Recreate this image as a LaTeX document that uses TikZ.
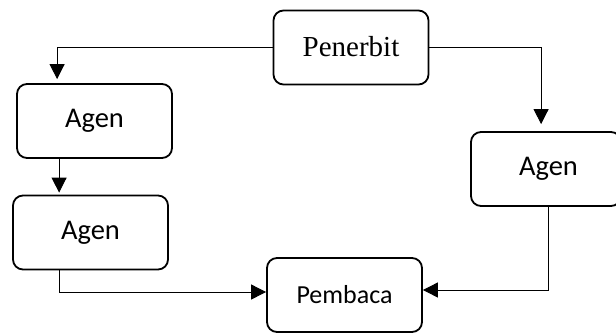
\documentclass[tikz,border=0pt]{standalone}
\usepackage{fontspec}
\setmainfont{Carlito}
\newfontfamily\serifpen{Liberation Serif}
\usetikzlibrary{arrows.meta}
\begin{document}
\begin{tikzpicture}[x=1pt,y=-1pt,
  box/.style={draw, line width=1.8pt, rounded corners=10pt, minimum width=155pt, minimum height=74pt, inner sep=0pt},
  conn/.style={line width=0.9pt, -{Triangle[length=15pt,width=15pt]}}]
\useasboundingbox (0,0) rectangle (616,333);
\node[box, font=\serifpen\fontsize{29}{32}\selectfont] (pen) at (351,47.5) {\raisebox{2pt}{Penerbit}};
\node[box, font=\fontsize{28.5}{32}\selectfont] (ag1) at (94.5,121) {Agen};
\node[box, font=\fontsize{28.5}{32}\selectfont] (ag2) at (90.5,232.5) {Agen};
\node[box, font=\fontsize{26}{30}\selectfont] (pem) at (344.5,295) {Pembaca};
\node[box, minimum width=150pt, font=\fontsize{28.5}{32}\selectfont] (ag3) at (546,169) {\hspace*{5pt}Agen};
\coordinate (yl) at (0,292);
\coordinate (yr) at (0,290);
\draw[conn] (pen.west) -| ([xshift=41pt,yshift=4pt]ag1.north west);
\draw[conn] (pen.east) -| ([xshift=71pt,yshift=7pt]ag3.north west);
\draw[conn] ([xshift=43pt]ag1.south west) -- ([xshift=47pt,yshift=2pt]ag2.north west);
\draw[conn] ([xshift=47pt]ag2.south west) |- (pem.west |- yl);
\draw[conn] ([xshift=78pt]ag3.south west) |- (pem.east |- yr);
\end{tikzpicture}
\end{document}
